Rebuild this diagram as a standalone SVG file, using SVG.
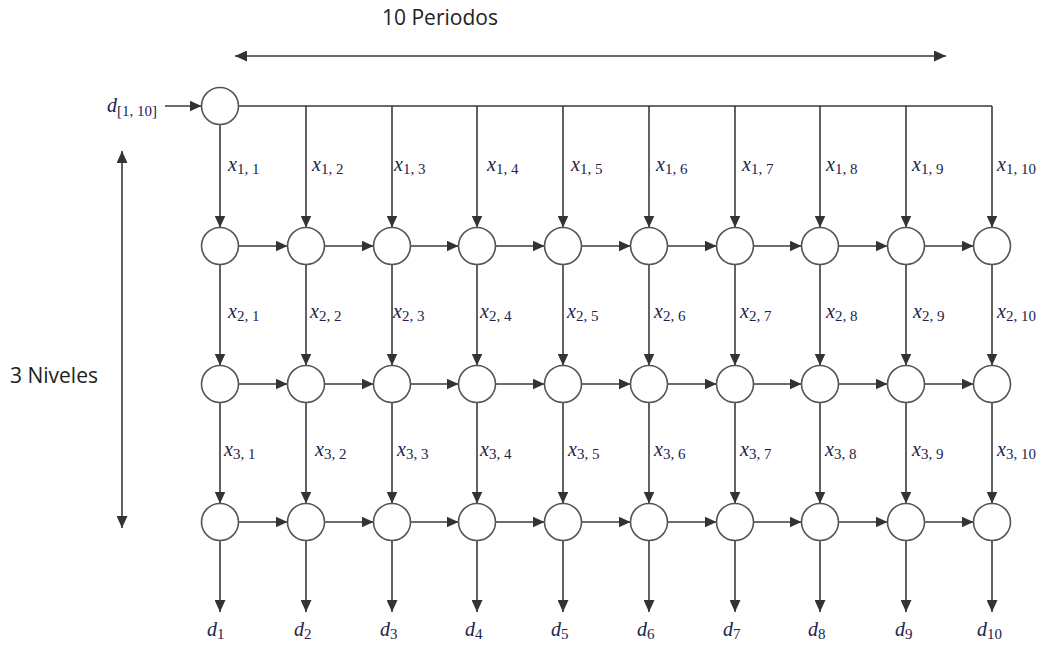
<svg xmlns="http://www.w3.org/2000/svg" width="1043" height="646" viewBox="0 0 1043 646">
<defs>
<marker id="ah" markerUnits="userSpaceOnUse" markerWidth="12" markerHeight="11" refX="12" refY="5.5" orient="auto-start-reverse" viewBox="0 0 12 11">
<path d="M0,0 L12,5.5 L0,11 z" fill="#333"/>
</marker>
</defs>
<style>
.n{fill:#fff;stroke:#555;stroke-width:1.6}
.c{fill:none;stroke:#3a3a3a;stroke-width:1.6}
.a{fill:none;stroke:#3a3a3a;stroke-width:1.6;marker-end:url(#ah)}
.m{font-family:"Liberation Serif","Times New Roman",serif;font-size:20px;fill:#23234a}
.m .v{font-style:italic}
.m .s{font-size:15px}
.t{font-family:"Open Sans","Liberation Sans",sans-serif;font-size:21px;fill:#222}
</style>
<rect width="1043" height="646" fill="#fff"/>
<g id="connectors">
<path class="a" d="M235,56 H946" marker-start="url(#ah)"/>
<path class="a" d="M122,151 V528" marker-start="url(#ah)"/>
<path class="a" d="M165,106 H201.5"/>
<path class="c" d="M238.5,106 H992"/>
<path class="a" d="M220,124.5 V227.5"/>
<path class="a" d="M306,106 V227.5"/>
<path class="a" d="M392,106 V227.5"/>
<path class="a" d="M477,106 V227.5"/>
<path class="a" d="M563,106 V227.5"/>
<path class="a" d="M649,106 V227.5"/>
<path class="a" d="M735,106 V227.5"/>
<path class="a" d="M820,106 V227.5"/>
<path class="a" d="M906,106 V227.5"/>
<path class="a" d="M992,106 V227.5"/>
<path class="a" d="M220,264.5 V365.5"/>
<path class="a" d="M306,264.5 V365.5"/>
<path class="a" d="M392,264.5 V365.5"/>
<path class="a" d="M477,264.5 V365.5"/>
<path class="a" d="M563,264.5 V365.5"/>
<path class="a" d="M649,264.5 V365.5"/>
<path class="a" d="M735,264.5 V365.5"/>
<path class="a" d="M820,264.5 V365.5"/>
<path class="a" d="M906,264.5 V365.5"/>
<path class="a" d="M992,264.5 V365.5"/>
<path class="a" d="M220,402.5 V503.5"/>
<path class="a" d="M306,402.5 V503.5"/>
<path class="a" d="M392,402.5 V503.5"/>
<path class="a" d="M477,402.5 V503.5"/>
<path class="a" d="M563,402.5 V503.5"/>
<path class="a" d="M649,402.5 V503.5"/>
<path class="a" d="M735,402.5 V503.5"/>
<path class="a" d="M820,402.5 V503.5"/>
<path class="a" d="M906,402.5 V503.5"/>
<path class="a" d="M992,402.5 V503.5"/>
<path class="a" d="M220,540.5 V612"/>
<path class="a" d="M306,540.5 V612"/>
<path class="a" d="M392,540.5 V612"/>
<path class="a" d="M477,540.5 V612"/>
<path class="a" d="M563,540.5 V612"/>
<path class="a" d="M649,540.5 V612"/>
<path class="a" d="M735,540.5 V612"/>
<path class="a" d="M820,540.5 V612"/>
<path class="a" d="M906,540.5 V612"/>
<path class="a" d="M992,540.5 V612"/>
<path class="a" d="M238.5,246 H287.5"/>
<path class="a" d="M324.5,246 H373.5"/>
<path class="a" d="M410.5,246 H458.5"/>
<path class="a" d="M495.5,246 H544.5"/>
<path class="a" d="M581.5,246 H630.5"/>
<path class="a" d="M667.5,246 H716.5"/>
<path class="a" d="M753.5,246 H801.5"/>
<path class="a" d="M838.5,246 H887.5"/>
<path class="a" d="M924.5,246 H973.5"/>
<path class="a" d="M238.5,384 H287.5"/>
<path class="a" d="M324.5,384 H373.5"/>
<path class="a" d="M410.5,384 H458.5"/>
<path class="a" d="M495.5,384 H544.5"/>
<path class="a" d="M581.5,384 H630.5"/>
<path class="a" d="M667.5,384 H716.5"/>
<path class="a" d="M753.5,384 H801.5"/>
<path class="a" d="M838.5,384 H887.5"/>
<path class="a" d="M924.5,384 H973.5"/>
<path class="a" d="M238.5,522 H287.5"/>
<path class="a" d="M324.5,522 H373.5"/>
<path class="a" d="M410.5,522 H458.5"/>
<path class="a" d="M495.5,522 H544.5"/>
<path class="a" d="M581.5,522 H630.5"/>
<path class="a" d="M667.5,522 H716.5"/>
<path class="a" d="M753.5,522 H801.5"/>
<path class="a" d="M838.5,522 H887.5"/>
<path class="a" d="M924.5,522 H973.5"/>
</g>
<g id="source"><circle class="n" cx="220" cy="106" r="18.5"/></g>
<g id="n1_1"><circle class="n" cx="220" cy="246" r="18.5"/></g>
<g id="n1_2"><circle class="n" cx="306" cy="246" r="18.5"/></g>
<g id="n1_3"><circle class="n" cx="392" cy="246" r="18.5"/></g>
<g id="n1_4"><circle class="n" cx="477" cy="246" r="18.5"/></g>
<g id="n1_5"><circle class="n" cx="563" cy="246" r="18.5"/></g>
<g id="n1_6"><circle class="n" cx="649" cy="246" r="18.5"/></g>
<g id="n1_7"><circle class="n" cx="735" cy="246" r="18.5"/></g>
<g id="n1_8"><circle class="n" cx="820" cy="246" r="18.5"/></g>
<g id="n1_9"><circle class="n" cx="906" cy="246" r="18.5"/></g>
<g id="n1_10"><circle class="n" cx="992" cy="246" r="18.5"/></g>
<g id="n2_1"><circle class="n" cx="220" cy="384" r="18.5"/></g>
<g id="n2_2"><circle class="n" cx="306" cy="384" r="18.5"/></g>
<g id="n2_3"><circle class="n" cx="392" cy="384" r="18.5"/></g>
<g id="n2_4"><circle class="n" cx="477" cy="384" r="18.5"/></g>
<g id="n2_5"><circle class="n" cx="563" cy="384" r="18.5"/></g>
<g id="n2_6"><circle class="n" cx="649" cy="384" r="18.5"/></g>
<g id="n2_7"><circle class="n" cx="735" cy="384" r="18.5"/></g>
<g id="n2_8"><circle class="n" cx="820" cy="384" r="18.5"/></g>
<g id="n2_9"><circle class="n" cx="906" cy="384" r="18.5"/></g>
<g id="n2_10"><circle class="n" cx="992" cy="384" r="18.5"/></g>
<g id="n3_1"><circle class="n" cx="220" cy="522" r="18.5"/></g>
<g id="n3_2"><circle class="n" cx="306" cy="522" r="18.5"/></g>
<g id="n3_3"><circle class="n" cx="392" cy="522" r="18.5"/></g>
<g id="n3_4"><circle class="n" cx="477" cy="522" r="18.5"/></g>
<g id="n3_5"><circle class="n" cx="563" cy="522" r="18.5"/></g>
<g id="n3_6"><circle class="n" cx="649" cy="522" r="18.5"/></g>
<g id="n3_7"><circle class="n" cx="735" cy="522" r="18.5"/></g>
<g id="n3_8"><circle class="n" cx="820" cy="522" r="18.5"/></g>
<g id="n3_9"><circle class="n" cx="906" cy="522" r="18.5"/></g>
<g id="n3_10"><circle class="n" cx="992" cy="522" r="18.5"/></g>
<g id="labels">
<text class="t" x="382" y="25">10 Periodos</text>
<text class="t" x="10" y="383">3 Niveles</text>
<text class="m" x="107" y="112"><tspan class="v">d</tspan><tspan class="s" dy="4">[1, 10]</tspan></text>
<text class="m" x="228" y="171"><tspan class="v">x</tspan><tspan class="s" dy="3">1, 1</tspan></text>
<text class="m" x="312" y="171"><tspan class="v">x</tspan><tspan class="s" dy="3">1, 2</tspan></text>
<text class="m" x="394" y="171"><tspan class="v">x</tspan><tspan class="s" dy="3">1, 3</tspan></text>
<text class="m" x="487" y="171"><tspan class="v">x</tspan><tspan class="s" dy="3">1, 4</tspan></text>
<text class="m" x="571" y="171"><tspan class="v">x</tspan><tspan class="s" dy="3">1, 5</tspan></text>
<text class="m" x="656" y="171"><tspan class="v">x</tspan><tspan class="s" dy="3">1, 6</tspan></text>
<text class="m" x="742" y="171"><tspan class="v">x</tspan><tspan class="s" dy="3">1, 7</tspan></text>
<text class="m" x="826" y="171"><tspan class="v">x</tspan><tspan class="s" dy="3">1, 8</tspan></text>
<text class="m" x="912" y="171"><tspan class="v">x</tspan><tspan class="s" dy="3">1, 9</tspan></text>
<text class="m" x="997" y="171"><tspan class="v">x</tspan><tspan class="s" dy="3">1, 10</tspan></text>
<text class="m" x="228" y="318"><tspan class="v">x</tspan><tspan class="s" dy="3">2, 1</tspan></text>
<text class="m" x="310" y="318"><tspan class="v">x</tspan><tspan class="s" dy="3">2, 2</tspan></text>
<text class="m" x="393" y="318"><tspan class="v">x</tspan><tspan class="s" dy="3">2, 3</tspan></text>
<text class="m" x="480" y="318"><tspan class="v">x</tspan><tspan class="s" dy="3">2, 4</tspan></text>
<text class="m" x="567" y="318"><tspan class="v">x</tspan><tspan class="s" dy="3">2, 5</tspan></text>
<text class="m" x="654" y="318"><tspan class="v">x</tspan><tspan class="s" dy="3">2, 6</tspan></text>
<text class="m" x="740" y="318"><tspan class="v">x</tspan><tspan class="s" dy="3">2, 7</tspan></text>
<text class="m" x="826" y="318"><tspan class="v">x</tspan><tspan class="s" dy="3">2, 8</tspan></text>
<text class="m" x="913" y="318"><tspan class="v">x</tspan><tspan class="s" dy="3">2, 9</tspan></text>
<text class="m" x="997" y="318"><tspan class="v">x</tspan><tspan class="s" dy="3">2, 10</tspan></text>
<text class="m" x="224" y="456"><tspan class="v">x</tspan><tspan class="s" dy="3">3, 1</tspan></text>
<text class="m" x="315" y="456"><tspan class="v">x</tspan><tspan class="s" dy="3">3, 2</tspan></text>
<text class="m" x="397" y="456"><tspan class="v">x</tspan><tspan class="s" dy="3">3, 3</tspan></text>
<text class="m" x="480" y="456"><tspan class="v">x</tspan><tspan class="s" dy="3">3, 4</tspan></text>
<text class="m" x="568" y="456"><tspan class="v">x</tspan><tspan class="s" dy="3">3, 5</tspan></text>
<text class="m" x="654" y="456"><tspan class="v">x</tspan><tspan class="s" dy="3">3, 6</tspan></text>
<text class="m" x="740" y="456"><tspan class="v">x</tspan><tspan class="s" dy="3">3, 7</tspan></text>
<text class="m" x="825" y="456"><tspan class="v">x</tspan><tspan class="s" dy="3">3, 8</tspan></text>
<text class="m" x="912" y="456"><tspan class="v">x</tspan><tspan class="s" dy="3">3, 9</tspan></text>
<text class="m" x="997" y="456"><tspan class="v">x</tspan><tspan class="s" dy="3">3, 10</tspan></text>
<text class="m" x="207" y="636"><tspan class="v">d</tspan><tspan class="s" dy="3">1</tspan></text>
<text class="m" x="294" y="636"><tspan class="v">d</tspan><tspan class="s" dy="3">2</tspan></text>
<text class="m" x="380" y="636"><tspan class="v">d</tspan><tspan class="s" dy="3">3</tspan></text>
<text class="m" x="465" y="636"><tspan class="v">d</tspan><tspan class="s" dy="3">4</tspan></text>
<text class="m" x="551" y="636"><tspan class="v">d</tspan><tspan class="s" dy="3">5</tspan></text>
<text class="m" x="637" y="636"><tspan class="v">d</tspan><tspan class="s" dy="3">6</tspan></text>
<text class="m" x="723" y="636"><tspan class="v">d</tspan><tspan class="s" dy="3">7</tspan></text>
<text class="m" x="808" y="636"><tspan class="v">d</tspan><tspan class="s" dy="3">8</tspan></text>
<text class="m" x="895" y="636"><tspan class="v">d</tspan><tspan class="s" dy="3">9</tspan></text>
<text class="m" x="977" y="636"><tspan class="v">d</tspan><tspan class="s" dy="3">10</tspan></text>
</g>
</svg>
